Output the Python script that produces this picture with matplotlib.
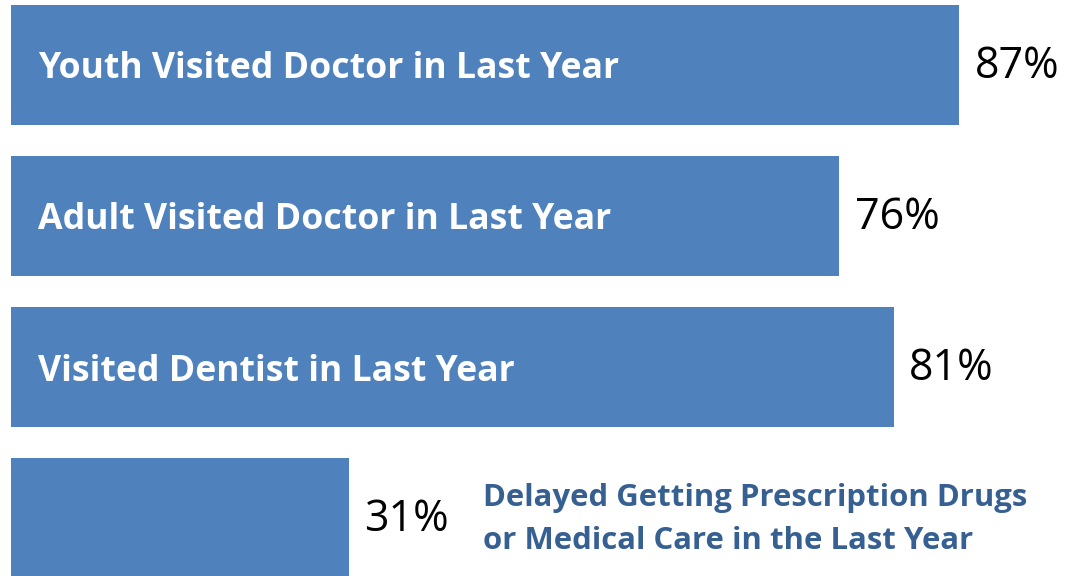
import matplotlib
matplotlib.use("Agg")
import matplotlib.pyplot as plt

categories = ["Youth Visited Doctor in Last Year",
              "Adult Visited Doctor in Last Year",
              "Visited Dentist in Last Year",
              "Delayed Getting Prescription Drugs\nor Medical Care in the Last Year"]
values = [87, 76, 81, 31]
value_labels = ["87%", "76%", "81%", "31%"]

bar_color = "#4F81BD"
outside_color = "#376092"

fig = plt.figure(figsize=(10.65, 5.76), dpi=100)
ax = fig.add_axes([11 / 1065, 0, 1 - 11 / 1065, 1])

pos = list(range(len(values)))
ax.barh(pos, values, height=0.795, color=bar_color)
ax.set_xlim(0, 96.7)
ax.set_ylim(3.384, -0.43)
ax.axis("off")

font = "Open Sans"
for i, (v, cat, lab) in enumerate(zip(values, categories, value_labels)):
    ax.text(v + 1.4, i + 0.01, lab, va="center", ha="left", fontsize=31,
            family=font, color="black")
    if v > 50:
        ax.text(2.5, i + 0.03, cat, va="center", ha="left", fontsize=25.7,
                family=font, fontweight="bold", color="white")
    else:
        ax.text(43.3, i + 0.01, cat, va="center", ha="left", fontsize=22.4,
                family=font, fontweight="bold", color=outside_color,
                linespacing=1.6)

fig.savefig("out.png", dpi=100)
